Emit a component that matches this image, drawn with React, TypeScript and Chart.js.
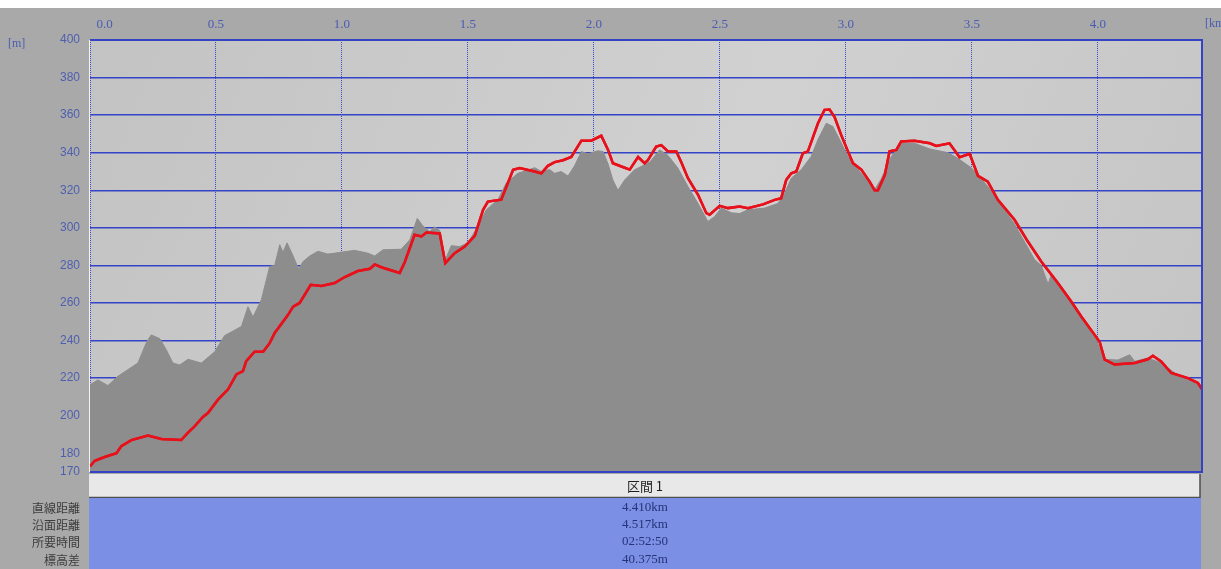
import React, { useEffect, useRef } from "react";
import { Chart, registerables } from "chart.js";

Chart.register(...registerables);

const X_MAX = 4.413;
const X_TICKS = [0, 0.5, 1, 1.5, 2, 2.5, 3, 3.5, 4];
const Y_TICKS = [170, 180, 200, 220, 240, 260, 280, 300, 320, 340, 360, 380, 400];

const terrainKm = [0, 0.032, 0.071, 0.111, 0.19, 0.224, 0.243, 0.277, 0.303, 0.329, 0.356, 0.389, 0.442, 0.495, 0.534, 0.601, 0.627, 0.647, 0.68, 0.713, 0.733, 0.753, 0.766, 0.782, 0.806, 0.828, 0.845, 0.872, 0.905, 0.944, 0.997, 1.05, 1.103, 1.13, 1.163, 1.235, 1.269, 1.299, 1.321, 1.348, 1.368, 1.388, 1.407, 1.434, 1.467, 1.5, 1.54, 1.573, 1.619, 1.652, 1.698, 1.765, 1.791, 1.824, 1.844, 1.87, 1.897, 1.923, 1.95, 1.976, 2.016, 2.036, 2.056, 2.075, 2.095, 2.122, 2.161, 2.222, 2.261, 2.294, 2.333, 2.373, 2.413, 2.452, 2.479, 2.505, 2.545, 2.578, 2.611, 2.677, 2.73, 2.757, 2.783, 2.823, 2.862, 2.889, 2.922, 2.948, 2.975, 3.008, 3.061, 3.114, 3.14, 3.18, 3.219, 3.272, 3.333, 3.405, 3.444, 3.497, 3.563, 3.669, 3.749, 3.775, 3.802, 3.815, 3.841, 3.907, 3.987, 4.027, 4.079, 4.126, 4.146, 4.198, 4.251, 4.317, 4.384, 4.413];
const terrainM = [216.5, 219, 216, 221, 228, 239, 243, 241, 235, 228, 227, 230, 228, 234, 242.6, 247.5, 258, 252.5, 261.7, 279.4, 280, 291, 287, 292, 285, 278, 282, 285, 287.5, 286, 287, 288, 286.5, 285, 288.3, 288.6, 293.6, 305, 301, 298, 300.5, 298.5, 282, 290.5, 290, 292, 301, 309.6, 315, 323.8, 329, 332, 330, 331, 329, 330, 327.6, 333, 340.6, 339.4, 341, 340.6, 334, 325.5, 320, 325.5, 330.9, 335, 341.5, 338.5, 331.8, 322, 313, 303.4, 306, 310.5, 308, 307.6, 309.6, 310.5, 313, 318.6, 326.4, 331, 338, 347, 355.7, 354, 347, 338, 329, 320.4, 326, 338, 345, 345, 342, 340, 337, 332, 322, 302, 283, 280, 270, 275, 270.6, 258, 242, 230, 229.6, 232.4, 228.9, 230.7, 228, 221.6, 218, 215.3];

const trackKm = [0, 0.019, 0.058, 0.105, 0.124, 0.164, 0.23, 0.283, 0.362, 0.389, 0.415, 0.448, 0.468, 0.508, 0.548, 0.581, 0.607, 0.62, 0.653, 0.687, 0.713, 0.733, 0.786, 0.806, 0.832, 0.876, 0.918, 0.971, 1.011, 1.063, 1.111, 1.13, 1.156, 1.229, 1.249, 1.288, 1.315, 1.335, 1.388, 1.41, 1.447, 1.487, 1.527, 1.56, 1.579, 1.632, 1.679, 1.705, 1.765, 1.791, 1.817, 1.844, 1.877, 1.91, 1.95, 1.989, 2.029, 2.056, 2.075, 2.122, 2.142, 2.175, 2.201, 2.214, 2.247, 2.267, 2.294, 2.327, 2.347, 2.373, 2.413, 2.446, 2.459, 2.499, 2.532, 2.578, 2.611, 2.671, 2.717, 2.743, 2.763, 2.783, 2.803, 2.829, 2.849, 2.889, 2.915, 2.935, 2.955, 2.981, 3.008, 3.028, 3.061, 3.094, 3.114, 3.127, 3.154, 3.173, 3.2, 3.219, 3.272, 3.333, 3.358, 3.411, 3.451, 3.491, 3.524, 3.563, 3.603, 3.669, 3.722, 3.775, 3.841, 3.894, 3.934, 3.987, 4.007, 4.027, 4.066, 4.146, 4.198, 4.218, 4.251, 4.291, 4.357, 4.397, 4.413];
const trackM = [173, 176, 178, 180, 183.7, 187, 189.4, 187.6, 187, 191, 194.3, 199.3, 201.4, 208.5, 214, 222, 223.7, 229, 234, 234, 238.6, 244, 253.7, 258, 260, 269.7, 269, 270.6, 273.8, 277, 278.2, 280.5, 279, 276, 281.7, 296.3, 295.4, 297.5, 297, 281.2, 286.5, 290, 295.7, 309.6, 314, 315, 330.9, 331.8, 330, 329, 333, 335, 336, 337.7, 346.4, 346.4, 349, 341.5, 334.4, 332, 331, 337.7, 334.4, 336, 343.3, 344, 340.7, 340.7, 334.8, 326.4, 317.6, 307.8, 307, 311.7, 310.5, 311.4, 310.5, 312.5, 314.9, 315.8, 325.5, 329, 330, 339.7, 340.7, 355.7, 362.8, 363, 359, 349.5, 340.7, 334.4, 331, 324.6, 320, 320, 328, 340.7, 341.5, 346, 346.4, 345, 343.6, 345, 337.6, 339.4, 327.7, 324.6, 314.9, 304.3, 292.7, 282.1, 270.6, 260.8, 252.8, 243, 239.2, 229.8, 227.2, 228, 230, 231.9, 228.9, 222.7, 220, 217.4, 214];

const SECTION_TITLE = "区間 1";
const ROW_LABELS = ["直線距離", "沿面距離", "所要時間", "標高差"];
const ROW_VALUES = ["4.410km", "4.517km", "02:52:50", "40.375m"];

const W = 1221;
const H = 561;

export default function App() {
  const ref = useRef<HTMLCanvasElement>(null);

  useEffect(() => {
    const canvas = ref.current!;
    const bgPlugin = {
      id: "bgPlugin",
      beforeDraw(chart: any) {
        const { ctx, chartArea: a } = chart;
        ctx.save();
        ctx.fillStyle = "#a9a9a9";
        ctx.fillRect(0, 0, chart.width, chart.height);
        const g = ctx.createLinearGradient(a.left, a.top, a.right, a.bottom);
        g.addColorStop(0, "#c3c3c3");
        g.addColorStop(0.55, "#d1d1d1");
        g.addColorStop(1, "#c4c4c4");
        ctx.fillStyle = g;
        ctx.fillRect(a.left, a.top, a.right - a.left, a.bottom - a.top);
        ctx.restore();
      },
      afterDraw(chart: any) {
        const { ctx, chartArea: a } = chart;
        // redraw track on top of grid
        ctx.save();
        ctx.beginPath();
        ctx.rect(a.left, a.top - 2, a.right - a.left, a.bottom - a.top + 4);
        ctx.clip();
        chart.getDatasetMeta(0).controller.draw();
        ctx.restore();

        ctx.save();
        // plot border
        ctx.strokeStyle = "#3442c4";
        ctx.lineWidth = 2;
        ctx.beginPath();
        ctx.moveTo(a.left, a.top);
        ctx.lineTo(a.right, a.top);
        ctx.lineTo(a.right, a.bottom);
        ctx.lineTo(a.left, a.bottom);
        ctx.stroke();
        ctx.strokeStyle = "#f4f4f4";
        ctx.lineWidth = 1;
        ctx.beginPath();
        ctx.moveTo(a.left - 0.5, a.top);
        ctx.lineTo(a.left - 0.5, a.bottom);
        ctx.stroke();

        // unit labels
        ctx.fillStyle = "#4a5bb4";
        ctx.font = "12px 'Liberation Serif'";
        ctx.textBaseline = "middle";
        ctx.textAlign = "left";
        ctx.fillText("[m]", 8, 36);
        ctx.fillText("[km]", 1205, 16);

        // table header
        const tl = 89;
        const tr = 1200;
        const hTop = 466;
        const hBot = 490;
        ctx.fillStyle = "#e8e8e8";
        ctx.fillRect(tl, hTop, tr - tl, hBot - hTop);
        ctx.strokeStyle = "#4e4e4e";
        ctx.lineWidth = 1.5;
        ctx.beginPath();
        ctx.moveTo(tl, hBot - 0.5);
        ctx.lineTo(tr, hBot - 0.5);
        ctx.lineTo(tr, hTop);
        ctx.stroke();
        ctx.fillStyle = "#1e1e1e";
        ctx.font = "13px 'Noto Sans CJK JP'";
        ctx.textAlign = "center";
        ctx.fillText(SECTION_TITLE, 645, 478);

        // blue rows
        ctx.fillStyle = "#7b8fe4";
        ctx.fillRect(tl, hBot, tr + 1 - tl, H - hBot);
        const rowY = [500, 517, 534, 552];
        ctx.font = "13px 'Liberation Serif'";
        ctx.fillStyle = "#24337a";
        ROW_VALUES.forEach((v, i) => ctx.fillText(v, 645, rowY[i]));
        ctx.font = "12px 'Noto Sans CJK JP'";
        ctx.fillStyle = "#3c3c3c";
        ctx.textAlign = "right";
        ROW_LABELS.forEach((v, i) => ctx.fillText(v, 80, rowY[i]));
        ctx.restore();
      },
    };

    const chart = new Chart(canvas, {
      type: "line",
      data: {
        datasets: [
          {
            label: "track",
            data: trackKm.map((x, i) => ({ x, y: trackM[i] })),
            borderColor: "#e8101a",
            borderWidth: 2.5,
            pointRadius: 0,
            fill: false,
            tension: 0,
          },
          {
            label: "terrain",
            data: terrainKm.map((x, i) => ({ x, y: terrainM[i] })),
            borderColor: "#8d8d8d",
            borderWidth: 1,
            backgroundColor: "#8d8d8d",
            pointRadius: 0,
            fill: "start",
            tension: 0,
          },
        ],
      },
      options: {
        responsive: false,
        animation: false,
        events: [],
        layout: { padding: { left: 0, right: 19, top: 0, bottom: 97 } },
        plugins: { legend: { display: false }, tooltip: { enabled: false } },
        scales: {
          x: {
            type: "linear",
            position: "top",
            min: 0,
            max: X_MAX,
            z: 1,
            afterFit: (s: any) => {
              s.height = 32;
            },
            afterBuildTicks: (s: any) => {
              s.ticks = X_TICKS.map((v) => ({ value: v })).concat([{ value: X_MAX }]);
            },
            grid: { color: "#3b4bc8", lineWidth: 1, drawTicks: false },
            border: { display: false, dash: [1, 1] },
            ticks: {
              autoSkip: false,
              maxRotation: 0,
              align: "inner",
              padding: 8,
              color: "#4a5bb4",
              font: { family: "'Liberation Serif'", size: 13 },
              callback: (v: any) => (X_TICKS.includes(Number(v)) ? (Number(v) === 0 ? "  0.0" : Number(v).toFixed(1)) : ""),
            },
          },
          y: {
            type: "linear",
            min: 170,
            max: 400,
            z: 1,
            afterFit: (s: any) => {
              s.width = 90;
            },
            afterBuildTicks: (s: any) => {
              s.ticks = Y_TICKS.map((v) => ({ value: v }));
            },
            grid: { color: "#3443c8", lineWidth: 1.5, drawTicks: false },
            border: { display: false },
            ticks: {
              autoSkip: false,
              padding: 10,
              color: "#4e5fb0",
              font: { family: "'Liberation Sans'", size: 12 },
            },
          },
        },
      },
      plugins: [bgPlugin],
    } as any);
    return () => chart.destroy();
  }, []);

  return (
    <div style={{ position: "absolute", left: 0, top: 8, width: W, height: H }}>
      <canvas ref={ref} width={W} height={H} style={{ display: "block" }} />
    </div>
  );
}
